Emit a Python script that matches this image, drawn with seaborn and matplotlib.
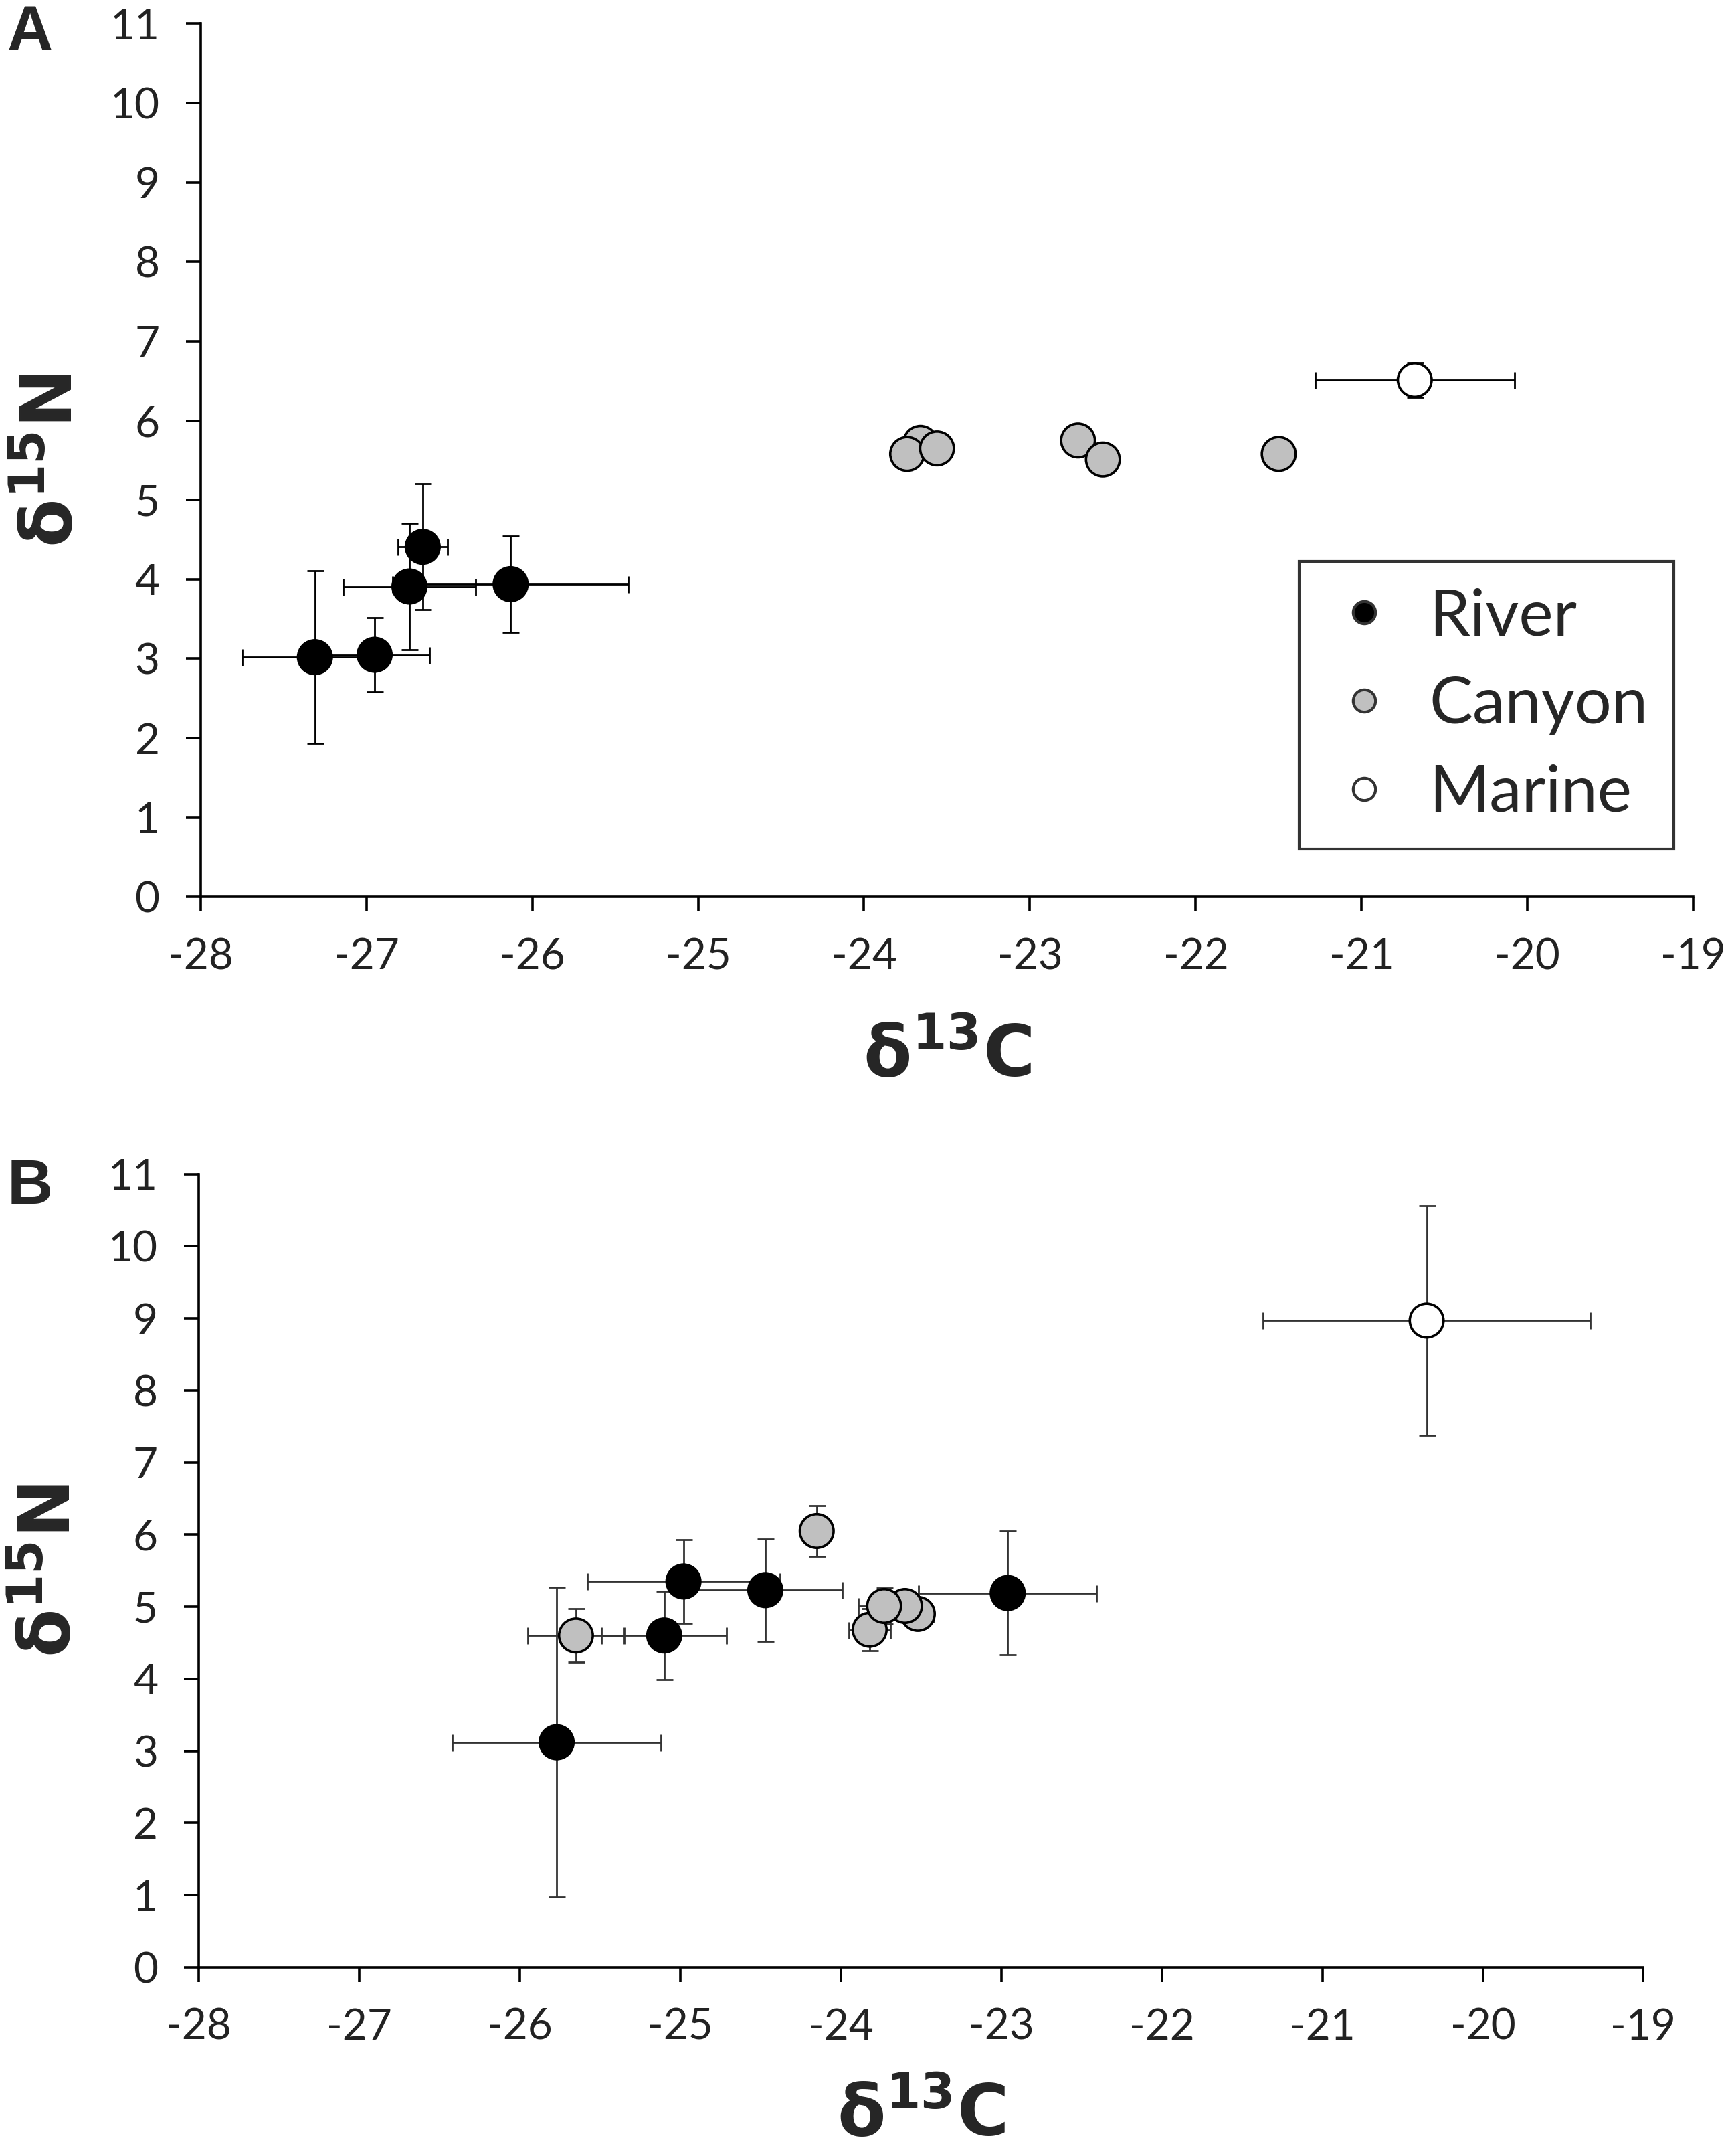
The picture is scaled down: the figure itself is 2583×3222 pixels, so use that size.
import numpy as np
import pandas as pd
import matplotlib
matplotlib.use('Agg')
import matplotlib.pyplot as plt
import seaborn as sns
from matplotlib.lines import Line2D

# Panel A values
a_river_x = [-27.31, -26.95, -26.74, -26.66, -26.13]
a_river_y = [3.02, 3.05, 3.91, 4.41, 3.94]
a_river_xerr = [0.44, 0.33, 0.40, 0.15, 0.71]
a_river_yerr = [1.09, 0.47, 0.80, 0.79, 0.61]

a_canyon_x = [-23.66, -23.74, -23.56, -22.71, -22.56, -21.50]
a_canyon_y = [5.72, 5.58, 5.65, 5.75, 5.51, 5.58]
a_canyon_xerr = [0.0, 0.0, 0.0, 0.0, 0.0, 0.0]
a_canyon_yerr = [0.0, 0.0, 0.0, 0.0, 0.0, 0.0]

a_marine_x = [-20.68]
a_marine_y = [6.51]
a_marine_xerr = [0.60]
a_marine_yerr = [0.22]

# Panel B values
b_river_x = [-25.77, -25.10, -24.98, -24.47, -22.96]
b_river_y = [3.12, 4.60, 5.35, 5.23, 5.19]
b_river_xerr = [0.65, 0.39, 0.60, 0.48, 0.555]
b_river_yerr = [2.15, 0.61, 0.58, 0.71, 0.86]

b_canyon_x = [-25.65, -24.15, -23.82, -23.52, -23.60, -23.73]
b_canyon_y = [4.60, 6.05, 4.68, 4.90, 5.01, 5.01]
b_canyon_xerr = [0.30, 0.05, 0.13, 0.10, 0.10, 0.16]
b_canyon_yerr = [0.37, 0.35, 0.29, 0.15, 0.15, 0.25]

b_marine_x = [-20.35]
b_marine_y = [8.97]
b_marine_xerr = [1.02]
b_marine_yerr = [1.59]

groups = ['River', 'Canyon', 'Marine']
colors = {'River': '#000000', 'Canyon': '#c0c0c0', 'Marine': '#ffffff'}
x_ticks = list(range(-28, -18))
y_ticks = list(range(0, 12))

sns.set_theme(style='ticks')
plt.rcParams['font.family'] = ['Lato', 'DejaVu Sans']
plt.rcParams['mathtext.fontset'] = 'dejavusans'
plt.rcParams['axes.unicode_minus'] = False


def make_frame(parts):
    rows = []
    for group, xs, ys, xe, ye in parts:
        for x, y, a, b in zip(xs, ys, xe, ye):
            rows.append({'d13C': x, 'd15N': y, 'xerr': a, 'yerr': b, 'group': group})
    return pd.DataFrame(rows)


def draw_panel(ax, df, xlim, bar_color, xlabelpad):
    for _, r in df.iterrows():
        if r['xerr'] > 0 or r['yerr'] > 0:
            ax.errorbar(r['d13C'], r['d15N'], xerr=r['xerr'], yerr=r['yerr'],
                        fmt='none', ecolor=bar_color, elinewidth=1.0,
                        capsize=4.5, capthick=1.0, zorder=2)
    sns.scatterplot(data=df, x='d13C', y='d15N', hue='group', palette=colors,
                    hue_order=groups, s=330, edgecolor='black', linewidth=1.3,
                    legend=False, ax=ax, zorder=3)
    ax.set_xlim(*xlim)
    ax.set_ylim(0, 11)
    ax.set_xticks(x_ticks)
    ax.set_yticks(y_ticks)
    ax.tick_params(direction='out', length=8, width=1.3, pad=14, labelsize=23,
                   color='black', labelcolor='#222222')
    for side in ['top', 'right']:
        ax.spines[side].set_visible(False)
    for side in ['left', 'bottom']:
        ax.spines[side].set_linewidth(1.3)
        ax.spines[side].set_color('black')
    ax.set_xlabel(r'$\mathbf{\delta^{13}C}$', fontsize=38, labelpad=xlabelpad)
    ax.set_ylabel(r'$\mathbf{\delta^{15}N}$', fontsize=38, labelpad=14)


df_a = make_frame([
    ('River', a_river_x, a_river_y, a_river_xerr, a_river_yerr),
    ('Canyon', a_canyon_x, a_canyon_y, a_canyon_xerr, a_canyon_yerr),
    ('Marine', a_marine_x, a_marine_y, a_marine_xerr, a_marine_yerr),
])
df_b = make_frame([
    ('River', b_river_x, b_river_y, b_river_xerr, b_river_yerr),
    ('Canyon', b_canyon_x, b_canyon_y, b_canyon_xerr, b_canyon_yerr),
    ('Marine', b_marine_x, b_marine_y, b_marine_xerr, b_marine_yerr),
])

fig = plt.figure(figsize=(12.915, 16.11), dpi=200)
ax_a = fig.add_axes([0.116, 0.584, 0.864, 0.405])
ax_b = fig.add_axes([0.115, 0.0876, 0.836, 0.3678])

draw_panel(ax_a, df_a, (-28, -19), 'black', 24)
draw_panel(ax_b, df_b, (-28, -19), '#333333', 18)

handles = [Line2D([0], [0], marker='o', linestyle='none', markersize=12,
                  markerfacecolor=colors[g], markeredgecolor='#333333',
                  markeredgewidth=1.5, label=g) for g in groups]
leg = ax_a.legend(handles=handles, loc='lower right', bbox_to_anchor=(0.987, 0.055),
                  fontsize=35, frameon=True, fancybox=False, edgecolor='black',
                  labelspacing=0.45, handletextpad=0.4, borderpad=0.4,
                  handlelength=1.2, borderaxespad=0)
leg.get_frame().set_linewidth(1.5)

fig.text(0.004, 0.998, 'A', fontsize=34, fontweight='bold', va='top',
         family=['Liberation Sans', 'DejaVu Sans'])
fig.text(0.004, 0.463, 'B', fontsize=34, fontweight='bold', va='top',
         family=['Liberation Sans', 'DejaVu Sans'])

fig.savefig('out.png', dpi=200)
plt.close(fig)
